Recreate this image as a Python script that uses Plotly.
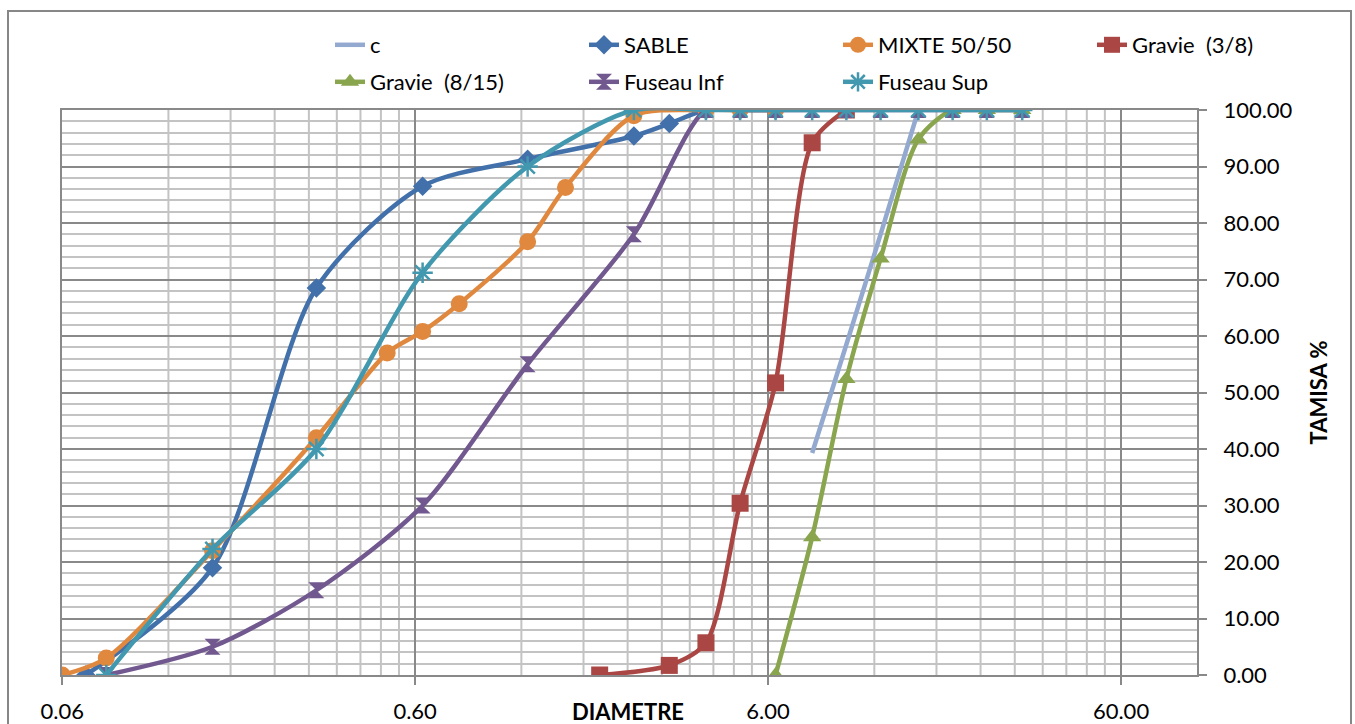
import plotly.graph_objects as go
import math

# ---------------- data ----------------
c_d = [8, 10, 12.5, 16]
c_p = [39.3, 58.5, 78.0, 100.0]

sable_d = [0.07, 0.16, 0.315, 0.63, 1.25, 2.5, 3.15, 4, 5, 6.3]
sable_p = [0, 19.0, 68.5, 86.5, 91.3, 95.4, 97.6, 100, 100, 100]

mixte_d = [0.06, 0.08, 0.16, 0.315, 0.5, 0.63, 0.8, 1.25, 1.6, 2.5, 4, 5, 6.3]
mixte_p = [0, 3.0, 22.0, 42.0, 57.0, 60.8, 65.7, 76.7, 86.3, 99.0, 100, 100, 100]

g38_d = [2, 3.15, 4, 5, 6.3, 8, 10]
g38_p = [0, 1.7, 5.7, 30.4, 51.7, 94.2, 100]

g815_d = [6.3, 8, 10, 12.5, 16, 20, 25, 31.5]
g815_p = [0, 24.4, 52.4, 73.7, 94.8, 100, 100, 100]

fus_d = [0.08, 0.16, 0.315, 0.63, 1.25, 2.5, 4, 5, 6.3, 8, 10, 12.5, 16, 20, 25, 31.5]
fus_inf = [0, 5.0, 15.0, 30.0, 55.0, 78.0, 100, 100, 100, 100, 100, 100, 100, 100, 100, 100]
fus_sup = [0, 22.3, 40.0, 71.2, 90.0, 100, 100, 100, 100, 100, 100, 100, 100, 100, 100, 100]

x_major = [0.06, 0.6, 6, 60]
x_major_text = ["0.06", "0.60", "6.00", "60.00"]
x_minor = [k * m for m in (0.06, 0.6, 6) for k in range(2, 10)]

FONT = "Lato"
GRID_MAJ = "#898989"
GRID_MIN = "#C3C3C3"

X_LO = math.log10(0.06) - 0.0005
X_HI = math.log10(98.5)

fig = go.Figure()

def add(name, xs, ys, color, symbol=None, size=14, legend="legend", mline=None):
    mode = "lines" if symbol is None else "lines+markers"
    marker = {}
    if symbol is not None:
        marker = dict(symbol=symbol, size=size, color=color,
                      line=dict(width=mline if mline else 0, color=color))
    fig.add_trace(go.Scatter(
        x=xs, y=ys, name=name, mode=mode,
        line=dict(color=color, width=4.5, shape="spline", smoothing=0.8),
        marker=marker, legend=legend))

add("c", c_d, c_p, "#93A9D0")
add("SABLE", sable_d, sable_p, "#4270AA", "diamond", 15)
add("MIXTE 50/50", mixte_d, mixte_p, "#E0883E", "circle", 17)
add("Gravie \u00a0(3/8)", g38_d, g38_p, "#AA4643", "square", 17)
add("Gravie \u00a0(8/15)", g815_d, g815_p, "#89A54E", "triangle-up", 16, legend="legend2")
add("Fuseau Inf", fus_d, fus_inf, "#71588F", "hourglass", 16, legend="legend2")
add("Fuseau Sup", fus_d, fus_sup, "#4198AF", "asterisk-open", 17, legend="legend2", mline=2.5)

L, R, T, B = 62, 1197, 110, 675
W, H = 1355, 724
pw, ph = R - L, B - T

def px(xp):
    return (xp - L) / pw

def py(yp):
    return (B - yp) / ph

def xpaper(v):
    return (math.log10(v) - X_LO) / (X_HI - X_LO)

legend_common = dict(orientation="h", xanchor="left", yanchor="middle",
                     entrywidth=209, entrywidthmode="pixels",
                     font=dict(family=FONT, size=22, color="#000000"),
                     bgcolor="rgba(0,0,0,0)", borderwidth=0, itemwidth=30,
                     traceorder="normal")

shapes = [dict(type="line", xref="paper", yref="paper",
               x0=xpaper(v), x1=xpaper(v), y0=0, y1=1,
               line=dict(color=GRID_MIN, width=2), layer="below")
          for v in x_minor]
shapes.append(dict(type="rect", xref="paper", yref="paper",
                   x0=px(8), x1=px(1351), y0=py(740), y1=py(11),
                   line=dict(color="#878787", width=2), fillcolor="rgba(0,0,0,0)",
                   layer="below"))

fig.update_layout(
    width=W, height=H,
    margin=dict(l=L, r=W - R, t=T, b=H - B, autoexpand=False),
    paper_bgcolor="white", plot_bgcolor="white",
    font=dict(family=FONT, size=22, color="#000000"),
    legend=dict(x=px(330), y=py(45), **legend_common),
    legend2=dict(x=px(330), y=py(82), **legend_common),
    xaxis=dict(
        type="log",
        range=[X_LO, X_HI],
        tickmode="array", tickvals=x_major, ticktext=x_major_text,
        ticks="outside", ticklen=8, tickwidth=2, tickcolor=GRID_MAJ,
        showgrid=True, gridcolor=GRID_MAJ, gridwidth=2,
        showline=True, linecolor=GRID_MAJ, linewidth=2, mirror=True,
        zeroline=False, ticklabelstandoff=8,
        tickfont=dict(family=FONT, size=22, color="#000000"),
    ),
    yaxis=dict(
        side="right", range=[0, 100], dtick=10, tickformat=".2f",
        ticks="outside", ticklen=8, tickwidth=2, tickcolor=GRID_MAJ,
        showgrid=True, gridcolor=GRID_MAJ, gridwidth=2,
        minor=dict(dtick=2, showgrid=True, gridcolor=GRID_MIN, gridwidth=2, ticks=""),
        showline=True, linecolor=GRID_MAJ, linewidth=2, mirror=True,
        zeroline=False, ticklabelstandoff=12,
        tickfont=dict(family=FONT, size=22, color="#000000"),
        title=dict(text="<b>TAMISA %</b>", standoff=20,
                   font=dict(family=FONT, size=22, color="#000000")),
    ),
    annotations=[dict(
        text="<b>DIAMETRE</b>", xref="paper", yref="paper",
        x=px(628), y=py(711), xanchor="center", yanchor="middle",
        showarrow=False, font=dict(family=FONT, size=22, color="#000000"))],
    shapes=shapes,
    showlegend=True,
)

fig.write_html("out.html")
